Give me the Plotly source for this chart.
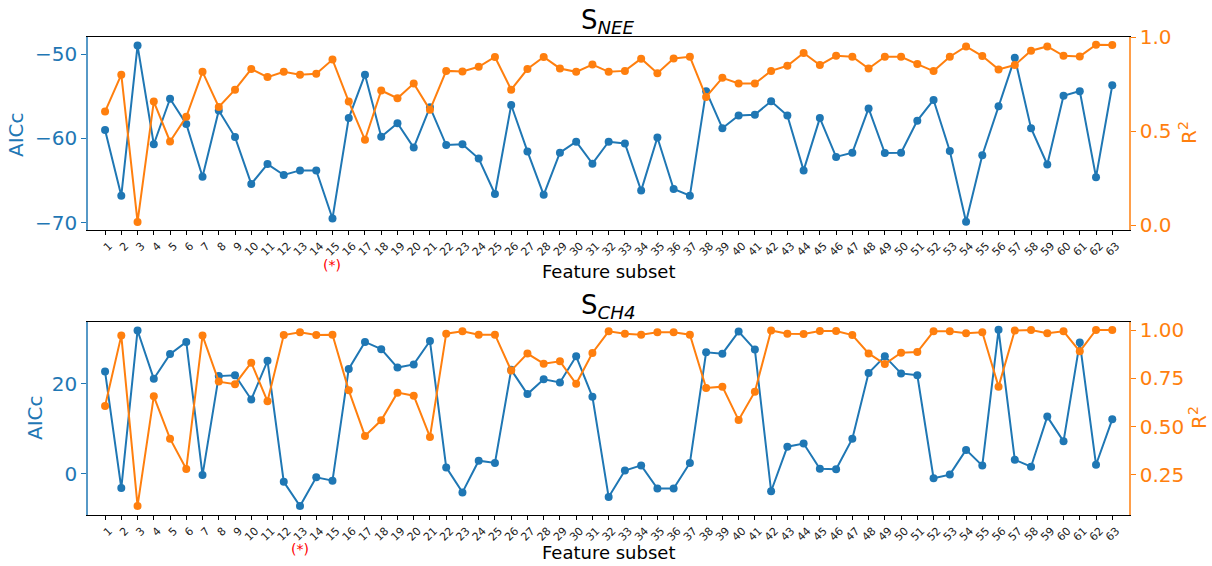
import plotly.graph_objects as go

subsets = list(range(1, 64))

nee_aicc = [-59.0, -66.8, -49.0, -60.7, -55.3, -58.3, -64.55, -56.7, -59.85, -65.4,
            -63.05, -64.35, -63.8, -63.8, -69.5, -57.6, -52.45, -59.8, -58.2, -61.1,
            -56.3, -60.8, -60.7, -62.4, -66.6, -56.05, -61.55, -66.7, -61.7, -60.4,
            -63.0, -60.4, -60.6, -66.2, -59.9, -66.0, -66.8, -54.4, -58.8, -57.3,
            -57.2, -55.6, -57.3, -63.8, -57.6, -62.2, -61.7, -56.45, -61.75, -61.7,
            -57.9, -55.45, -61.5, -69.9, -62.0, -56.2, -50.45, -58.8, -63.1, -54.95,
            -54.4, -64.6, -53.7]
nee_r2 = [0.604, 0.80, 0.018, 0.657, 0.445, 0.576, 0.815, 0.628, 0.72, 0.83,
          0.787, 0.815, 0.80, 0.805, 0.88, 0.657, 0.454, 0.716, 0.675, 0.753,
          0.613, 0.82, 0.817, 0.842, 0.894, 0.72, 0.83, 0.894, 0.833, 0.815,
          0.854, 0.815, 0.82, 0.885, 0.808, 0.886, 0.895, 0.682, 0.783, 0.753,
          0.753, 0.82, 0.847, 0.915, 0.851, 0.90, 0.895, 0.833, 0.895, 0.895,
          0.856, 0.819, 0.895, 0.95, 0.899, 0.828, 0.851, 0.927, 0.95, 0.90,
          0.897, 0.959, 0.957]

ch4_aicc = [22.7, -3.2, 31.85, 21.1, 26.6, 29.3, -0.3, 21.7, 21.9, 16.5,
            25.1, -1.8, -7.2, -0.8, -1.55, 23.3, 29.3, 27.7, 23.6, 24.3,
            29.5, 1.4, -4.15, 2.9, 2.4, 23.1, 17.7, 21.0, 20.3, 26.1,
            17.1, -5.2, 0.7, 1.85, -3.3, -3.3, 2.4, 27.0, 26.7, 31.6,
            27.6, -3.9, 6.0, 6.7, 1.1, 1.0, 7.8, 22.4, 26.1, 22.3,
            21.9, -1.0, -0.2, 5.3, 1.8, 32.0, 3.1, 1.55, 12.7, 7.2,
            29.2, 2.0, 12.1]
ch4_r2 = [0.607, 0.971, 0.09, 0.657, 0.438, 0.281, 0.971, 0.733, 0.72, 0.831,
          0.631, 0.974, 0.988, 0.974, 0.976, 0.688, 0.452, 0.533, 0.676, 0.66,
          0.447, 0.981, 0.993, 0.976, 0.976, 0.79, 0.878, 0.826, 0.838, 0.722,
          0.881, 0.993, 0.981, 0.976, 0.988, 0.988, 0.976, 0.70, 0.707, 0.534,
          0.681, 0.998, 0.981, 0.979, 0.995, 0.995, 0.974, 0.879, 0.824, 0.883,
          0.886, 0.993, 0.993, 0.983, 0.988, 0.707, 0.997, 1.0, 0.983, 0.993,
          0.89, 1.0, 1.0]

BLUE = "#1f77b4"
ORANGE = "#ff7f0e"
FONT = "DejaVu Sans"

W, H = 1212, 566
def px_x(p): return p / W
def px_y(p): return 1 - p / H

fig = go.Figure()

def add_series(x, y, xa, ya, color):
    fig.add_trace(go.Scatter(x=x, y=y, xaxis=xa, yaxis=ya, mode="lines+markers",
                             line=dict(color=color, width=2),
                             marker=dict(color=color, size=8),
                             showlegend=False, hoverinfo="skip"))

add_series(subsets, nee_aicc, "x", "y", BLUE)
add_series(subsets, nee_r2, "x", "y2", ORANGE)
add_series(subsets, ch4_aicc, "x2", "y3", BLUE)
add_series(subsets, ch4_r2, "x2", "y4", ORANGE)

xdom = [px_x(88), px_x(1129)]
top_dom = [px_y(230), px_y(37)]
bot_dom = [px_y(515), px_y(321.7)]

xcommon = dict(range=[-0.05, 64.03], tickmode="array", tickvals=subsets,
               ticktext=[str(s) for s in subsets], tickangle=-45,
               tickfont=dict(family=FONT, size=11, color="#222"),
               ticklabelshift=4,
               ticks="outside", ticklen=4, tickcolor="black",
               showline=True, linecolor="black", linewidth=1.2, mirror=True,
               showgrid=False, zeroline=False, domain=xdom, automargin=False)

def yleft(rng, tv, tt, dom, anchor):
    return dict(range=rng, tickvals=tv, ticktext=tt, domain=dom, anchor=anchor,
                tickfont=dict(family=FONT, size=20, color=BLUE),
                ticks="outside", ticklen=5, tickcolor=BLUE,
                showline=True, linecolor="rgba(31,119,180,0.75)", linewidth=1.5,
                showgrid=False, zeroline=False, automargin=False)

def yright(rng, tv, tt, overlay, anchor):
    return dict(range=rng, tickvals=tv, ticktext=tt, overlaying=overlay, side="right",
                anchor=anchor,
                tickfont=dict(family=FONT, size=20, color=ORANGE),
                ticks="outside", ticklen=5, tickcolor=ORANGE,
                showline=True, linecolor="rgba(255,127,14,0.75)", linewidth=1.5,
                showgrid=False, zeroline=False, automargin=False)

fig.update_layout(
    width=W, height=H, margin=dict(l=0, r=0, t=0, b=0, autoexpand=False),
    paper_bgcolor="white", plot_bgcolor="white",
    xaxis=dict(xcommon, anchor="y"),
    xaxis2=dict(xcommon, anchor="y3"),
    yaxis=yleft([-70.87, -47.98], [-70, -60, -50], ["−70", "−60", "−50"], top_dom, "x"),
    yaxis2=yright([-0.025, 1.0], [0.0, 0.5, 1.0], ["0.0", "0.5", "1.0"], "y", "x"),
    yaxis3=yleft([-9.18, 33.8], [0, 20], ["0", "20"], bot_dom, "x2"),
    yaxis4=yright([0.043, 1.043], [0.25, 0.5, 0.75, 1.0], ["0.25", "0.50", "0.75", "1.00"], "y3", "x2"),
)

ann = []
def txt(x, y, text, size, color="black", angle=0, xref="paper", yref="paper"):
    ann.append(dict(x=x, y=y, xref=xref, yref=yref, text=text, showarrow=False,
                    font=dict(family=FONT, size=size, color=color), textangle=angle,
                    xanchor="center", yanchor="middle"))

txt(px_x(608), px_y(21), "S<sub><i>NEE</i></sub>", 26)
txt(px_x(608), px_y(306), "S<sub><i>CH4</i></sub>", 26)
txt(px_x(608), px_y(271), "Feature subset", 18)
txt(px_x(608), px_y(552), "Feature subset", 18)
txt(px_x(16), px_y(135), "AICc", 20, BLUE, -90)
txt(px_x(35), px_y(418), "AICc", 20, BLUE, -90)
txt(px_x(1188), px_y(133), "R<sup>2</sup>", 20, ORANGE, -90)
txt(px_x(1198), px_y(418), "R<sup>2</sup>", 20, ORANGE, -90)
ann.append(dict(x=15, y=px_y(265), xref="x", yref="paper", text="(*)", showarrow=False,
                font=dict(family=FONT, size=14, color="red"), yanchor="middle"))
ann.append(dict(x=13, y=px_y(549), xref="x2", yref="paper", text="(*)", showarrow=False,
                font=dict(family=FONT, size=14, color="red"), yanchor="middle"))
fig.update_layout(annotations=ann)

fig.write_html("out.html")
